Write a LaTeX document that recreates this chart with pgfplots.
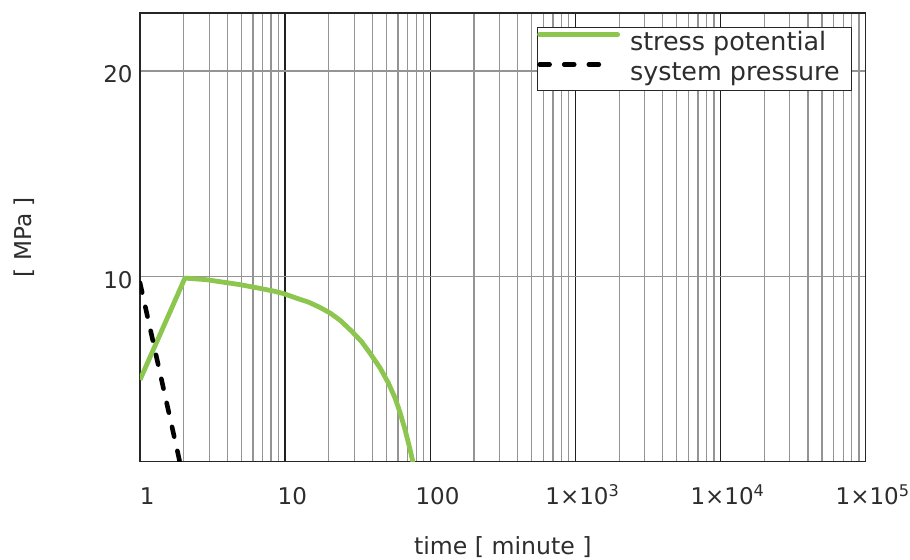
\documentclass[border=0pt]{standalone}
\usepackage{fontspec}
\setmainfont{DejaVu Sans}
\usepackage{pgfplots}
\pgfplotsset{compat=1.18}
\definecolor{sgreen}{RGB}{140,198,78}
\definecolor{txt}{RGB}{45,45,45}
\pgfplotsset{
  legA/.style={legend image code/.code={\draw[##1, line cap=round] (0pt,4.6pt) -- (39pt,4.6pt); \path (44pt,4.6pt);}},
  legB/.style={legend image code/.code={\draw[##1] (0pt,4.6pt) -- (32pt,4.6pt); \path (44pt,4.6pt);}},
}
\begin{document}
\begin{tikzpicture}
\begin{semilogxaxis}[
  scale only axis, width=362.85pt, height=224.35pt,
  at={(0,0)}, anchor=south west,
  xmin=1, xmax=100000, ymin=1, ymax=22.82,
  xtick={1,10,100,1000,10000,100000},
  xticklabels={1,10,100,1×10\textsuperscript{3},1×10\textsuperscript{4},1×10\textsuperscript{5}},
  minor xtick={2,3,4,5,6,7,8,9,20,30,40,50,60,70,80,90,200,300,400,500,600,700,800,900,2000,3000,4000,5000,6000,7000,8000,9000,20000,30000,40000,50000,60000,70000,80000,90000},
  ytick={10,20}, yticklabels={10,20},
  xmajorgrids, xminorgrids, ymajorgrids,
  major x grid style={black!88, line width=0.65pt},
  minor x grid style={black!42, line width=0.6pt},
  major y grid style={black!42, line width=0.6pt},
  major tick length=0pt, minor tick length=0pt,
  axis line style={black!85, line width=0.75pt},
  xticklabel style={anchor=base, inner sep=0pt, yshift=-21.6pt, xshift=3.6pt, font=\fontsize{11.5}{13}\selectfont, text=txt},
  yticklabel style={anchor=base east, inner sep=0pt, yshift=-6pt, xshift=-3.5pt, font=\fontsize{11.5}{13}\selectfont, text=txt},
  xlabel={time [ minute ]},
  ylabel={[ MPa ]},
  xlabel style={at={(axis description cs:0.5,-0.2079)}, anchor=base, inner sep=0pt, font=\fontsize{11.8}{14}\selectfont, text=txt},
  ylabel style={at={(axis description cs:-0.1598,0.5)}, anchor=center, inner sep=0pt, font=\fontsize{11.6}{14}\selectfont, text=txt},
  legend cell align=left,
  legend style={at={(axis description cs:1,1)}, anchor=north east, xshift=-6.65pt, yshift=-6.85pt,
    draw=black!85, line width=0.55pt, fill=white, inner xsep=0pt, inner ysep=2pt, row sep=2.5pt,
    font=\fontsize{12.7}{15}\selectfont,
    nodes={inner sep=0pt, text height=9.5pt, text depth=3pt, text=txt}},
]
\addplot[sgreen, line width=2.4pt, line join=round, legA]
  coordinates {
  (1,4.98) (2.04,9.93) (2.88,9.85) (3.75,9.73) (4.89,9.61) (6.37,9.46) (8.29,9.3)
  (9.72,9.18) (12.0,8.95) (14.5,8.76) (17.4,8.5) (20.4,8.23) (23.9,7.88) (28.8,7.34)
  (33.7,6.83) (38.5,6.27) (45.1,5.56) (51.4,4.83) (57.2,4.10) (61.9,3.39) (67.0,2.56)
  (72.6,1.59) (75.7,1.02) (76.5,0.75)
  };
\addlegendentry{stress potential\hspace*{12.8pt}}
\addplot[black, line width=2.3pt, line cap=round, dash pattern=on 5pt off 7.3pt, legB]
  coordinates {(1,9.7) (1.9,0.85)};
\addlegendentry{system pressure}
\end{semilogxaxis}
\pgfresetboundingbox
\path[use as bounding box] (-70pt,-48.65pt) rectangle (385pt,230.85pt);
\end{tikzpicture}
\end{document}
